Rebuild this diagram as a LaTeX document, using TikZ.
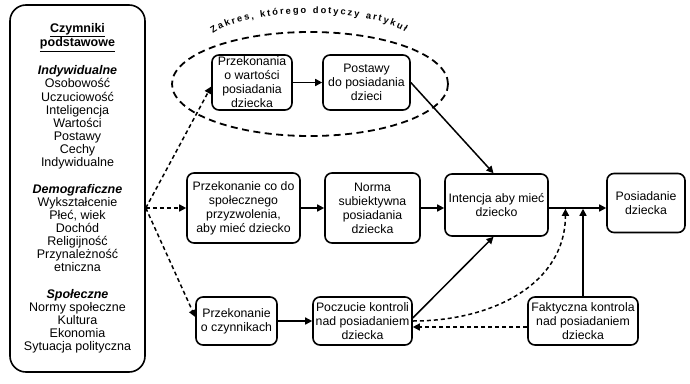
\documentclass[tikz,border=0pt]{standalone}
\usepackage{fontspec}
\setmainfont{Liberation Sans}
\usetikzlibrary{arrows.meta,decorations.text,calc,shapes.geometric}
\begin{document}
\begin{tikzpicture}[x=1pt,y=-1pt,
  box/.style={draw,line width=1.6pt,rounded corners=7pt,align=center,inner sep=1pt,font=\fontsize{12.3}{14}\selectfont},
  arr/.style={line width=1.5pt,-{Triangle[length=7pt,width=7pt]}},
  darr/.style={arr,dash pattern=on 4pt off 3pt},
]
\useasboundingbox (0,0) rectangle (690,383);

% left box
\node[draw,line width=1.6pt,rounded corners=16pt,minimum width=135pt,minimum height=367pt,inner sep=0pt] (left) at (77.5,188.5) {};
\node[anchor=north,align=center,inner sep=0pt,font=\fontsize{12.5}{13.15}\selectfont] (lefttext) at (77.5,23)
 {\underline{\textbf{Czymniki}}\\ \underline{\textbf{podstawowe}}\\[13.15pt]
  \textbf{\textit{Indywidualne}}\\ Osobowość\\ Uczuciowość\\ Inteligencja\\ Wartości\\ Postawy\\ Cechy\\ Indywidualne\\[13.15pt]
  \textbf{\textit{Demograficzne}}\\ Wykształcenie\\ Płeć, wiek\\ Dochód\\ Religijność\\ Przynależność\\ etniczna\\[13.15pt]
  \textbf{\textit{Społeczne}}\\ Normy społeczne\\ Kultura\\ Ekonomia\\ Sytuacja polityczna};

% scope ellipse
\node[draw,ellipse,line width=1.8pt,dash pattern=on 7pt off 4.5pt,minimum width=276pt,minimum height=104pt,inner sep=0pt] (zakres) at (310,84) {};
\path[decorate,decoration={text along path,text align=fit to path,
  text={|\bfseries\fontsize{9.3}{10}\selectfont|Zakres{,} którego dotyczy artykuł}}]
  (213,34) .. controls (250,7) and (368,7) .. (405,32);

% boxes
\node[box,minimum width=80pt,minimum height=55pt] (p1) at (252,82.5) {Przekonania\\o wartości\\posiadania\\dziecka};
\node[box,minimum width=87pt,minimum height=55pt] (p2) at (366.5,82.5) {Postawy\\do posiadania\\dzieci};
\node[box,minimum width=113pt,minimum height=70pt] (m1) at (243.5,208) {Przekonanie co do\\społecznego\\przyzwolenia,\\aby mieć dziecko};
\node[box,minimum width=95pt,minimum height=70pt] (m2) at (372.5,208) {Norma\\subiektywna\\posiadania\\dziecka};
\node[box,minimum width=103pt,minimum height=62pt] (it) at (496.5,205) {Intencja aby mieć\\dziecko};
\node[box,minimum width=78pt,minimum height=59pt] (pos) at (646,203) {Posiadanie\\dziecka};
\node[box,minimum width=81pt,minimum height=48pt] (c1) at (236.5,321) {Przekonanie\\o czynnikach};
\node[box,minimum width=99pt,minimum height=48pt] (c2) at (362.5,321) {Poczucie kontroli\\nad posiadaniem\\dziecka};
\node[box,minimum width=110pt,minimum height=48pt] (fk) at (583,321) {Faktyczna kontrola\\nad posiadaniem\\dziecka};

% dashed arrows from the left box
\coordinate (j) at (left.east |- m1.west);
\draw[darr] (j) -- ([yshift=-4pt]p1.west);
\draw[darr] (j) -- (m1.west);
\draw[darr] (j) -- ([yshift=4pt]c1.west);

% solid arrows
\draw[arr] (p1) -- (p2);
\draw[arr] (p2.east) -- ([xshift=-3pt]it.north);
\draw[arr] (m1) -- (m2);
\draw[arr] (m2.east) -- (it.west |- m2.east);
\draw[arr] (it.east |- m2.east) -- (pos.west |- m2.east);
\draw[arr] (c1) -- (c2);
\draw[arr] ([yshift=3pt]c2.east) -- ([xshift=-3pt]it.south);
\draw[arr] (fk.north) -- ([yshift=-0.75pt]fk.north |- m2.east);

% dashed feedback
\coordinate (k) at ($(it.east |- m2.east)!0.29!(pos.west |- m2.east)$);
\draw[darr] (c2.east) .. controls +(80,0) and +(0,75) .. ([yshift=-0.75pt]k);
\coordinate (fkw) at ([yshift=-6pt]fk.west);
\draw[darr] (fkw) -- (c2.east |- fkw);
\end{tikzpicture}
\end{document}
